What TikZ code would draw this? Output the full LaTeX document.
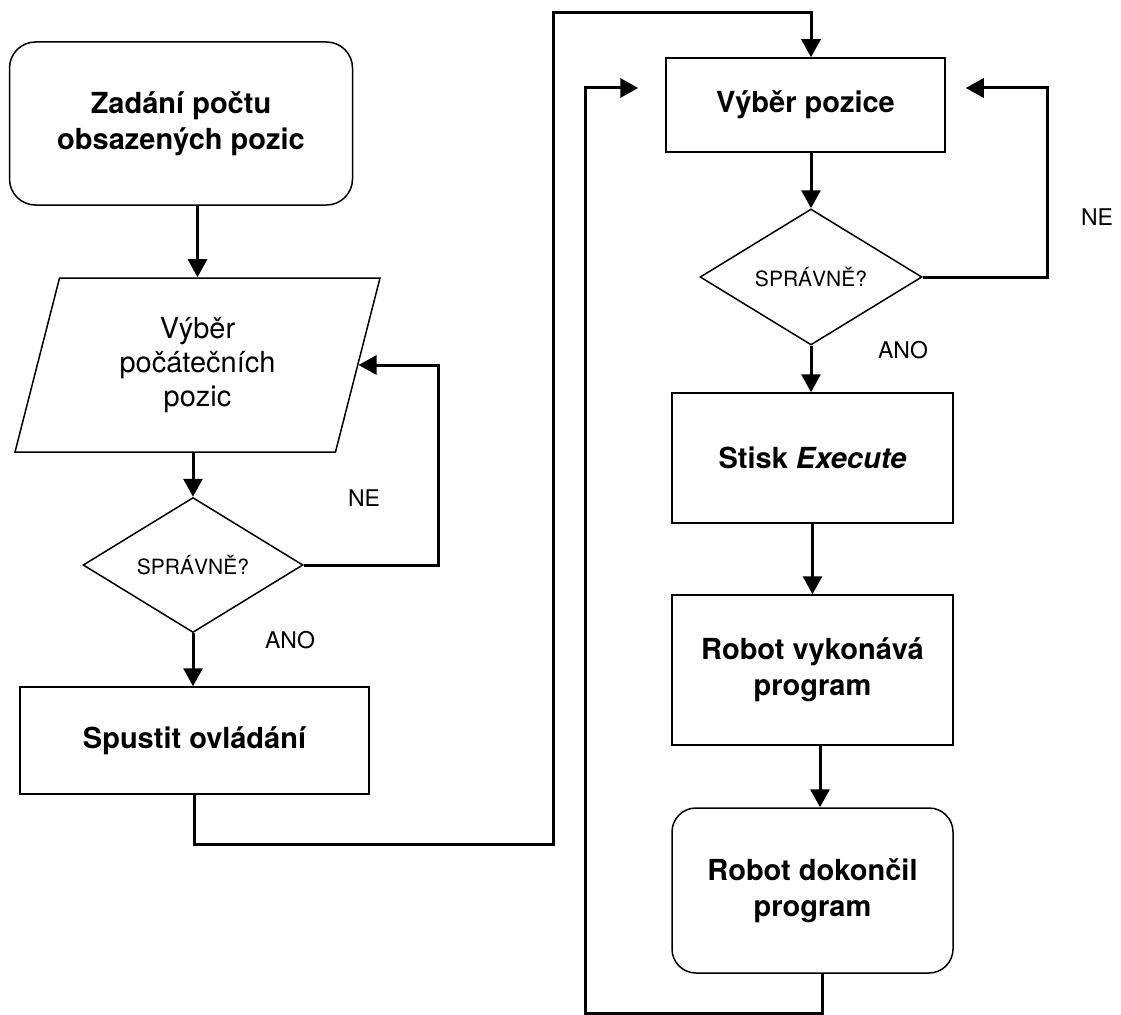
\documentclass[tikz,border=0pt]{standalone}
\usepackage{fontspec}
\setmainfont{TeX Gyre Heros}
\usetikzlibrary{shapes.geometric,arrows.meta,positioning}
\begin{document}
\begin{tikzpicture}[x=1pt, y=-1pt, >={Triangle[length=18pt,width=19pt]},
    blok/.style={draw, rectangle, line width=1.5pt, align=center, inner sep=0pt, font=\fontsize{29}{36}\selectfont\bfseries},
    zacatek/.style={blok, rounded corners=26pt},
    vstup/.style={draw, trapezium, trapezium left angle=65, trapezium right angle=115, trapezium stretches body=true, line width=1.5pt, align=center, inner sep=0pt, font=\fontsize{29}{34}\selectfont},
    rozhod/.style={draw, diamond, line width=1.5pt, inner sep=0pt, font=\fontsize{21}{25}\selectfont},
    popis/.style={font=\fontsize{23}{27}\selectfont},
    spoj/.style={->, line width=3pt}]
\useasboundingbox (0,0) rectangle (1121,1014);
% Levý sloupec
\node[zacatek, minimum width=343pt, minimum height=163pt] (start) at (181,123.5) {Zadání počtu\\obsazených pozic};
\node[vstup, minimum width=365pt, minimum height=174pt] (pozice) at (197.5,365) {Výběr\\počátečních\\pozic};
\node[rozhod, minimum width=220pt, minimum height=135pt] (dia1) at (193,565) {SPRÁVNĚ?};
\node[blok, minimum width=349pt, minimum height=107pt] (spust) at (194.5,740.5) {Spustit ovládání};
\draw[spoj] (start.south -| pozice.north) -- (pozice.north);
\draw[spoj] (pozice.south -| dia1.north) -- (dia1.north);
\draw[spoj] (dia1.south) -- (dia1.south |- spust.north);
\draw[spoj] (dia1.east) -- ++(135,0) |- (pozice.east);
\node[popis] (ne1) at (364,498) {NE};
\node[popis] (ano1) at (290,640) {ANO};
% Pravý sloupec
\node[blok, minimum width=279pt, minimum height=94pt] (vyber) at (805.5,105) {Výběr pozice};
\node[rozhod, minimum width=222pt, minimum height=136pt] (dia2) at (811,277) {SPRÁVNĚ?};
\node[blok, minimum width=281pt, minimum height=130pt] (stisk) at (812.5,458) {Stisk \textit{Execute}};
\node[blok, minimum width=281pt, minimum height=150pt] (robvyk) at (812.5,670) {Robot vykonává\\program};
\node[zacatek, minimum width=281pt, minimum height=165pt, rounded corners=24pt] (robdok) at (812.5,890.5) {Robot dokončil\\program};
\draw[spoj] (vyber.south -| dia2.north) -- (dia2.north);
\draw[spoj] (dia2.south) -- (dia2.south |- stisk.north);
\draw[spoj] (stisk.south) -- (robvyk.north);
\draw[spoj] ([xshift=7.5pt]robvyk.south) -- ([xshift=7.5pt]robdok.north);
\draw[spoj] (dia2.east) -- ++(125,0) |- ([xshift=20pt,yshift=17pt]vyber.east);
\node[popis] (ne2) at (1097,217) {NE};
\node[popis] (ano2) at (903,350) {ANO};
% Přechody mezi sloupci
\draw[spoj] (spust.south) -- ++(0,50) -| (553,13) -| ([xshift=5.5pt]vyber.north);
\draw[spoj] ([xshift=9.5pt]robdok.south) -- ++(0,40) -| (585,88) -- ([xshift=-27pt,yshift=17pt]vyber.west);
\end{tikzpicture}
\end{document}
